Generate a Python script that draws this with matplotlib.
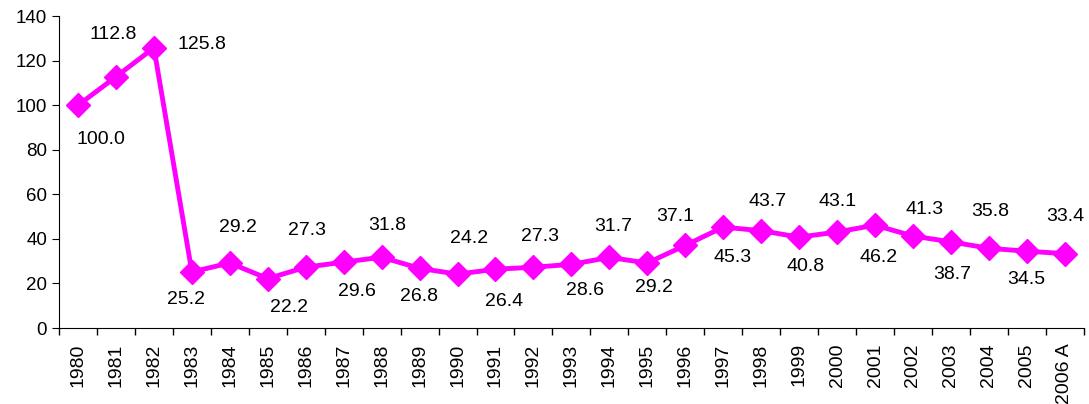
import matplotlib.pyplot as plt

plt.rcParams["font.family"] = ["Liberation Sans", "DejaVu Sans"]

years = ["1980", "1981", "1982", "1983", "1984", "1985", "1986", "1987", "1988",
         "1989", "1990", "1991", "1992", "1993", "1994", "1995", "1996", "1997",
         "1998", "1999", "2000", "2001", "2002", "2003", "2004", "2005", "2006 A"]
values = [100.0, 112.8, 125.8, 25.2, 29.2, 22.2, 27.3, 29.6, 31.8, 26.8, 24.2,
          26.4, 27.3, 28.6, 31.7, 29.2, 37.1, 45.3, 43.7, 40.8, 43.1, 46.2, 41.3,
          38.7, 35.8, 34.5, 33.4]

# where each value label sits relative to its point (pixels, +y is up)
label_dx = [23, -3, 48, -6, 8, 21, 1, 13, 6, -1, 12, 9, 7, 14, 4, 7, -10, 9,
            6, 6, 0, 4, 12, 1, 1, -1, 0]
label_dy = [-34, 42, 3, -28, 35, -29, 37, -29, 32, -28, 36, -32, 31, -26, 31,
            -25, 29, -30, 29, -29, 31, -32, 27, -33, 37, -28, 37]

fig = plt.figure(figsize=(10.89, 4.04), dpi=100)
ax = fig.add_axes([0.0542, 0.188, 0.941, 0.772])

x = list(range(len(years)))
ax.plot(x, values, color="#FF00FF", lw=3.5, marker="D", ms=12,
        markeredgecolor="#FF00FF", clip_on=False)

for i, v in enumerate(values):
    ax.annotate(f"{v:.1f}", (i, v), xytext=(label_dx[i], label_dy[i]),
                textcoords="offset pixels", ha="center", va="center",
                fontsize=14)

ax.set_xlim(-0.5, len(years) - 0.5)
ax.set_ylim(0, 140)
ax.set_yticks(range(0, 141, 20))
ax.set_xticks(x)
ax.set_xticklabels(years, rotation=90, fontsize=14)
ax.set_xticks([i + 0.5 for i in range(-1, len(years))], minor=True)
ax.tick_params(axis="x", which="major", length=0, pad=11)
ax.tick_params(axis="x", which="minor", length=5, width=1)
ax.tick_params(axis="y", length=5, labelsize=13.5)
for s in ["top", "right"]:
    ax.spines[s].set_visible(False)

fig.savefig("out.png", dpi=100)
